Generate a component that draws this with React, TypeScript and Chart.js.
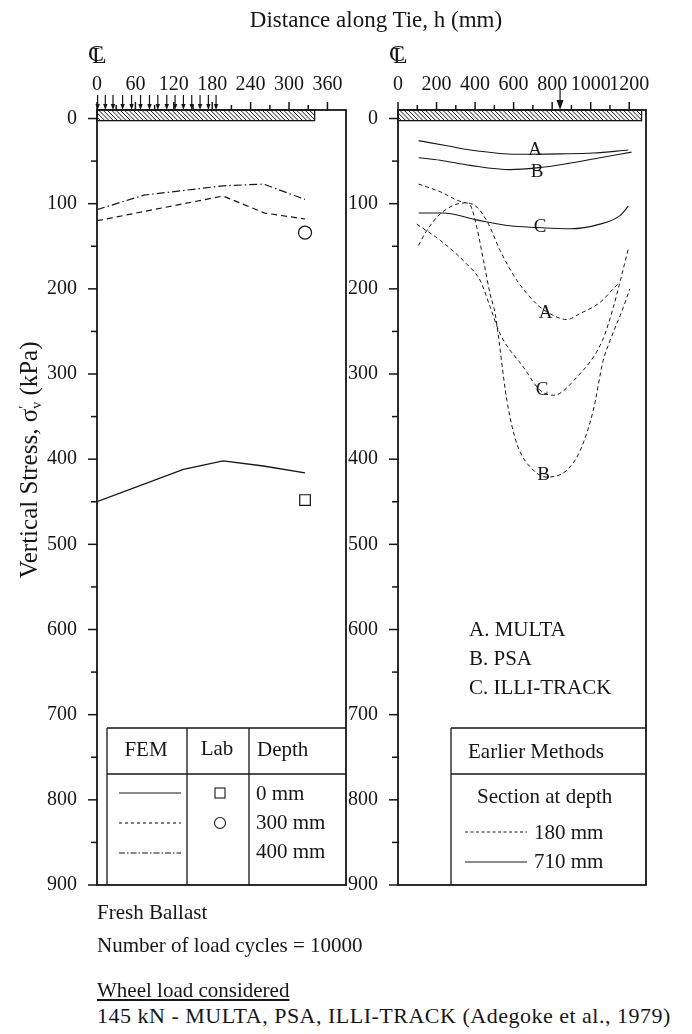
import React, { useEffect, useRef } from 'react';
import { Chart, registerables } from 'chart.js';

Chart.register(...registerables);

const SERIF = "'Liberation Serif', 'Times New Roman', serif";
const INK = '#161616';

// ---------- axes ----------
const leftXTicks = [0, 30, 60, 90, 120, 150, 180, 210, 240, 270, 300, 330, 360];
const leftXLabels = [0, 60, 120, 180, 240, 300, 360];
const rightXTicks = [0, 100, 200, 300, 400, 500, 600, 700, 800, 900, 1000, 1100, 1200];
const rightXLabels = [0, 200, 400, 600, 800, 1000, 1200];
const yTicks = [0, 50, 100, 150, 200, 250, 300, 350, 400, 450, 500, 550, 600, 650, 700, 750, 800, 850, 900];
const yLabels = [0, 100, 200, 300, 400, 500, 600, 700, 800, 900];

// ---------- left panel: FEM + Lab ----------
const fem0X = [0, 135, 197, 260, 325];
const fem0Y = [450, 412, 402, 408, 416];
const fem300X = [0, 197, 262, 325];
const fem300Y = [120, 91, 111, 118];
const fem400X = [0, 73, 197, 260, 325];
const fem400Y = [107, 90, 79, 77, 95];
const labX = [325];
const lab0Y = [448];
const lab300Y = [134];

// wheel-load arrows (mm) and tie half-length (mm)
const leftArrows = [1, 13, 25, 40, 54, 68, 82, 95, 109, 122, 135, 148, 161, 174, 186];
const leftTieEnd = 340;
const rightArrows = [841];
const rightTieEnd = 1264;

// ---------- right panel: earlier methods ----------
const multa180X = [107, 140, 219, 349, 409, 470, 530, 617, 720, 772, 876, 945, 1048, 1117, 1152];
const multa180Y = [149, 135, 112, 99, 104, 124, 155, 190, 218, 227, 236, 229, 216, 200, 192];
const psa180X = [107, 219, 332, 375, 409, 444, 478, 504, 565, 617, 703, 772, 876, 945, 1013, 1065, 1100, 1169, 1203];
const psa180Y = [77, 86, 98, 102, 128, 167, 206, 229, 331, 382, 413, 421, 413, 390, 343, 284, 261, 222, 200];
const illi180X = [97, 219, 357, 426, 478, 530, 651, 737, 806, 927, 1060, 1117, 1152, 1195];
const illi180Y = [124, 143, 171, 190, 221, 253, 292, 319, 325, 304, 261, 222, 192, 153];

const multa710X = [107, 254, 375, 617, 841, 1013, 1195];
const multa710Y = [26, 32, 37, 42, 41.5, 40.5, 37];
const psa710X = [107, 219, 375, 582, 720, 876, 1048, 1212];
const psa710Y = [46, 49, 55, 60, 58, 53, 46, 39.5];
const illi710X = [107, 236, 409, 582, 720, 893, 1048, 1152, 1195];
const illi710Y = [111, 111, 119, 126, 128, 129.5, 124, 114, 103];

const curveLabels = [
  { text: 'A', x: 712, y: 37 },
  { text: 'B', x: 722, y: 63 },
  { text: 'C', x: 737, y: 127 },
  { text: 'A', x: 766, y: 228 },
  { text: 'C', x: 748, y: 319 },
  { text: 'B', x: 756, y: 419 },
];

const pts = (xs: number[], ys: number[]) => xs.map((x, i) => ({ x, y: ys[i] }));

function line(ctx: CanvasRenderingContext2D, x1: number, y1: number, x2: number, y2: number) {
  ctx.beginPath();
  ctx.moveTo(x1, y1);
  ctx.lineTo(x2, y2);
  ctx.stroke();
}

function text(ctx: CanvasRenderingContext2D, s: string, x: number, y: number, align: CanvasTextAlign = 'left', size = 21) {
  ctx.font = `${size}px ${SERIF}`;
  ctx.fillStyle = INK;
  ctx.textAlign = align;
  ctx.textBaseline = 'middle';
  ctx.fillText(s, x, y);
}

function drawLeftLegend(ctx: CanvasRenderingContext2D, bottom: number) {
  ctx.strokeStyle = INK;
  ctx.lineWidth = 1.3;
  ctx.setLineDash([]);
  line(ctx, 107, 728, 346, 728);
  line(ctx, 107, 728, 107, bottom);
  line(ctx, 107, 774, 346, 774);
  line(ctx, 187, 728, 187, bottom);
  line(ctx, 249, 728, 249, bottom);
  text(ctx, 'FEM', 146, 750, 'center');
  text(ctx, 'Lab', 217, 749, 'center');
  text(ctx, 'Depth', 257, 750);
  ctx.lineWidth = 1.1;
  line(ctx, 119, 793, 181, 793);
  ctx.setLineDash([3, 3]);
  line(ctx, 119, 823, 181, 823);
  ctx.setLineDash([6, 2, 1.5, 2]);
  line(ctx, 119, 853, 181, 853);
  ctx.setLineDash([]);
  ctx.strokeRect(215, 788, 10, 10);
  ctx.beginPath();
  ctx.arc(220, 823, 5.5, 0, Math.PI * 2);
  ctx.stroke();
  text(ctx, '0 mm', 256, 794);
  text(ctx, '300 mm', 256, 823);
  text(ctx, '400 mm', 256, 852);
}

function drawRightLegend(ctx: CanvasRenderingContext2D, bottom: number) {
  text(ctx, 'A. MULTA', 469, 630);
  text(ctx, 'B. PSA', 469, 659);
  text(ctx, 'C. ILLI-TRACK', 469, 688);
  ctx.strokeStyle = INK;
  ctx.lineWidth = 1.3;
  ctx.setLineDash([]);
  line(ctx, 451, 728, 646, 728);
  line(ctx, 451, 728, 451, bottom);
  line(ctx, 451, 774, 646, 774);
  text(ctx, 'Earlier Methods', 468, 752);
  text(ctx, 'Section at depth', 477, 797);
  ctx.lineWidth = 1;
  ctx.setLineDash([3, 2.5]);
  line(ctx, 465, 832, 527, 832);
  ctx.setLineDash([]);
  line(ctx, 465, 862, 527, 862);
  text(ctx, '180 mm', 534, 833);
  text(ctx, '710 mm', 534, 862);
}

type PanelCfg = {
  id: string;
  xTicks: number[];
  xLabels: number[];
  tieEnd: number;
  arrows: number[];
  bigArrow: boolean;
  extra: (chart: any) => void;
};

function panelPlugin(cfg: PanelCfg) {
  return {
    id: 'panel-' + cfg.id,
    afterDraw(chart: any) {
      const ctx: CanvasRenderingContext2D = chart.ctx;
      const a = chart.chartArea;
      const xs = chart.scales.x;
      const ys = chart.scales.y;
      ctx.save();
      ctx.strokeStyle = INK;
      ctx.fillStyle = INK;
      ctx.setLineDash([]);

      // hatched tie
      const bx0 = xs.getPixelForValue(0);
      const bx1 = xs.getPixelForValue(cfg.tieEnd);
      const by0 = a.top;
      const by1 = ys.getPixelForValue(2.5);
      ctx.save();
      ctx.beginPath();
      ctx.rect(bx0, by0, bx1 - bx0, by1 - by0);
      ctx.clip();
      ctx.lineWidth = 1;
      for (let k = bx0 - 20; k < bx1 + 20; k += 4.3) {
        line(ctx, k, by0, k + (by1 - by0), by1);
      }
      ctx.restore();
      ctx.lineWidth = 1.3;
      ctx.strokeRect(bx0, by0, bx1 - bx0, by1 - by0);

      // frame
      ctx.lineWidth = 1.8;
      ctx.strokeRect(a.left, a.top, a.right - a.left, a.bottom - a.top);

      // ticks
      ctx.lineWidth = 1.5;
      for (const v of cfg.xTicks) {
        const px = xs.getPixelForValue(v);
        const len = cfg.xLabels.includes(v) ? 8 : 5;
        line(ctx, px, a.top, px, a.top - len);
      }
      for (const v of yTicks) {
        const py = ys.getPixelForValue(v);
        const len = yLabels.includes(v) ? 9 : 6;
        line(ctx, a.left, py, a.left - len, py);
      }

      // load arrows
      ctx.lineWidth = 1.2;
      for (const v of cfg.arrows) {
        const px = xs.getPixelForValue(v);
        if (cfg.bigArrow) {
          line(ctx, px, 88, px, 101);
          ctx.beginPath();
          ctx.moveTo(px - 3.5, 100);
          ctx.lineTo(px + 3.5, 100);
          ctx.lineTo(px, 110);
          ctx.closePath();
          ctx.fill();
        } else {
          line(ctx, px, 95, px, 105);
          ctx.beginPath();
          ctx.moveTo(px - 2.2, 104);
          ctx.lineTo(px + 2.2, 104);
          ctx.lineTo(px, 110);
          ctx.closePath();
          ctx.fill();
        }
      }

      cfg.extra(chart);
      ctx.restore();
    },
  };
}

function scalesFor(xMax: number, xTicks: number[], xLabels: number[], yWidth: number) {
  return {
    x: {
      type: 'linear',
      position: 'top',
      min: 0,
      max: xMax,
      afterBuildTicks: (s: any) => {
        s.ticks = xTicks.map((v) => ({ value: v }));
      },
      afterFit: (s: any) => {
        s.height = 110;
      },
      ticks: {
        autoSkip: false,
        maxRotation: 0,
        minRotation: 0,
        padding: 5,
        color: INK,
        font: { family: SERIF, size: 20 },
        callback: (v: any) => (xLabels.includes(Number(v)) ? String(v) : ''),
      },
      grid: { display: false, drawTicks: true, tickLength: 8 },
      border: { display: false },
    },
    y: {
      type: 'linear',
      reverse: true,
      min: -10,
      max: 900,
      afterBuildTicks: (s: any) => {
        s.ticks = yTicks.map((v) => ({ value: v }));
      },
      afterFit: (s: any) => {
        s.width = yWidth;
      },
      ticks: {
        autoSkip: false,
        padding: 11,
        color: INK,
        font: { family: SERIF, size: 20 },
        callback: (v: any) => (yLabels.includes(Number(v)) ? String(v) : ''),
      },
      grid: { display: false, drawTicks: true, tickLength: 9 },
      border: { display: false },
    },
  };
}

const lineDs = (label: string, data: any[], dash: number[], width = 1.2, smooth = false) => ({
  label,
  data,
  showLine: true,
  borderColor: INK,
  borderWidth: width,
  borderDash: dash,
  pointRadius: 0,
  tension: smooth ? 0.4 : 0,
  cubicInterpolationMode: smooth ? 'monotone' : 'default',
  fill: false,
});

const CANVAS_H = 908;

function leftConfig(): any {
  return {
    type: 'scatter',
    data: {
      datasets: [
        lineDs('FEM 0 mm', pts(fem0X, fem0Y), [], 1.3),
        lineDs('FEM 300 mm', pts(fem300X, fem300Y), [6, 4], 1.2),
        lineDs('FEM 400 mm', pts(fem400X, fem400Y), [8, 3, 1.5, 3], 1.2),
        {
          label: 'Lab 0 mm',
          data: pts(labX, lab0Y),
          pointStyle: 'rect',
          pointRadius: 7.5,
          borderWidth: 1.2,
          borderColor: INK,
          backgroundColor: 'rgba(0,0,0,0)',
          showLine: false,
        },
        {
          label: 'Lab 300 mm',
          data: pts(labX, lab300Y),
          pointStyle: 'circle',
          pointRadius: 6.5,
          borderWidth: 1.2,
          borderColor: INK,
          backgroundColor: 'rgba(0,0,0,0)',
          showLine: false,
        },
      ],
    },
    options: {
      responsive: false,
      animation: false,
      devicePixelRatio: 1,
      layout: { padding: { left: 0, top: 0, right: 346, bottom: 0 } },
      plugins: { legend: { display: false }, tooltip: { enabled: false } },
      scales: scalesFor(389, leftXTicks, leftXLabels, 97),
    },
    plugins: [
      panelPlugin({
        id: 'left',
        xTicks: leftXTicks,
        xLabels: leftXLabels,
        tieEnd: leftTieEnd,
        arrows: leftArrows,
        bigArrow: false,
        extra: (chart: any) => drawLeftLegend(chart.ctx, chart.chartArea.bottom),
      }),
    ],
  };
}

function rightConfig(): any {
  return {
    type: 'scatter',
    data: {
      datasets: [
        lineDs('MULTA 710 mm', pts(multa710X, multa710Y), [], 1.1, true),
        lineDs('PSA 710 mm', pts(psa710X, psa710Y), [], 1.1, true),
        lineDs('ILLI-TRACK 710 mm', pts(illi710X, illi710Y), [], 1.1, true),
        lineDs('MULTA 180 mm', pts(multa180X, multa180Y), [4, 3], 1, true),
        lineDs('PSA 180 mm', pts(psa180X, psa180Y), [4, 3], 1, true),
        lineDs('ILLI-TRACK 180 mm', pts(illi180X, illi180Y), [4, 3], 1, true),
      ],
    },
    options: {
      responsive: false,
      animation: false,
      devicePixelRatio: 1,
      layout: { padding: { left: 340, top: 0, right: 46, bottom: 0 } },
      plugins: { legend: { display: false }, tooltip: { enabled: false } },
      scales: scalesFor(1287, rightXTicks, rightXLabels, 58),
    },
    plugins: [
      panelPlugin({
        id: 'right',
        xTicks: rightXTicks,
        xLabels: rightXLabels,
        tieEnd: rightTieEnd,
        arrows: rightArrows,
        bigArrow: true,
        extra: (chart: any) => {
          const ctx = chart.ctx;
          for (const l of curveLabels) {
            text(ctx, l.text, chart.scales.x.getPixelForValue(l.x), chart.scales.y.getPixelForValue(l.y), 'center', 19);
          }
          drawRightLegend(ctx, chart.chartArea.bottom);
        },
      }),
    ],
  };
}

const abs = (left: number, top: number, extra: React.CSSProperties = {}): React.CSSProperties => ({
  position: 'absolute',
  left,
  top,
  whiteSpace: 'nowrap',
  ...extra,
});

function CL({ left }: { left: number }) {
  return (
    <>
      <span style={abs(left, 41, { fontSize: 24, lineHeight: '24px' })}>C</span>
      <span style={abs(left + 4, 43, { fontSize: 24, lineHeight: '24px' })}>L</span>
    </>
  );
}

export default function App() {
  const leftRef = useRef<HTMLCanvasElement>(null);
  const rightRef = useRef<HTMLCanvasElement>(null);

  useEffect(() => {
    const c1 = new Chart(leftRef.current as HTMLCanvasElement, leftConfig());
    const c2 = new Chart(rightRef.current as HTMLCanvasElement, rightConfig());
    return () => {
      c1.destroy();
      c2.destroy();
    };
  }, []);

  const cv: React.CSSProperties = { position: 'absolute', left: 0, top: 0, width: 692, height: CANVAS_H };

  return (
    <div
      style={{
        position: 'absolute',
        left: 0,
        top: 0,
        width: 692,
        height: 1034,
        background: '#fff',
        fontFamily: SERIF,
        color: INK,
        overflow: 'hidden',
      }}
    >
      <canvas ref={leftRef} width={692} height={CANVAS_H} style={cv} />
      <canvas ref={rightRef} width={692} height={CANVAS_H} style={cv} />

      <div style={abs(176, 8, { width: 400, textAlign: 'center', fontSize: 23, lineHeight: '24px' })}>
        Distance along Tie, h (mm)
      </div>
      <CL left={88} />
      <CL left={389} />

      <div
        style={abs(29 - 200, 460 - 16, {
          width: 400,
          height: 32,
          textAlign: 'center',
          fontSize: 25,
          lineHeight: '32px',
          transform: 'rotate(-90deg)',
          transformOrigin: '50% 50%',
        })}
      >
        Vertical Stress, σ
        <span style={{ display: 'inline-block', verticalAlign: 'middle', lineHeight: '12px', fontSize: 14, textAlign: 'left' }}>
          ′<br />v
        </span>{' '}
        (kPa)
      </div>

      <div style={abs(97, 901, { fontSize: 21, lineHeight: '22px' })}>Fresh Ballast</div>
      <div style={abs(97, 934, { fontSize: 21, lineHeight: '22px' })}>Number of load cycles = 10000</div>
      <div style={abs(97, 979, { fontSize: 21, lineHeight: '22px', textDecoration: 'underline' })}>Wheel load considered</div>
      <div style={abs(97, 1005, { fontSize: 22, lineHeight: '22px', letterSpacing: 0.5 })}>
        145 kN - MULTA, PSA, ILLI-TRACK (Adegoke et al., 1979)
      </div>
    </div>
  );
}
